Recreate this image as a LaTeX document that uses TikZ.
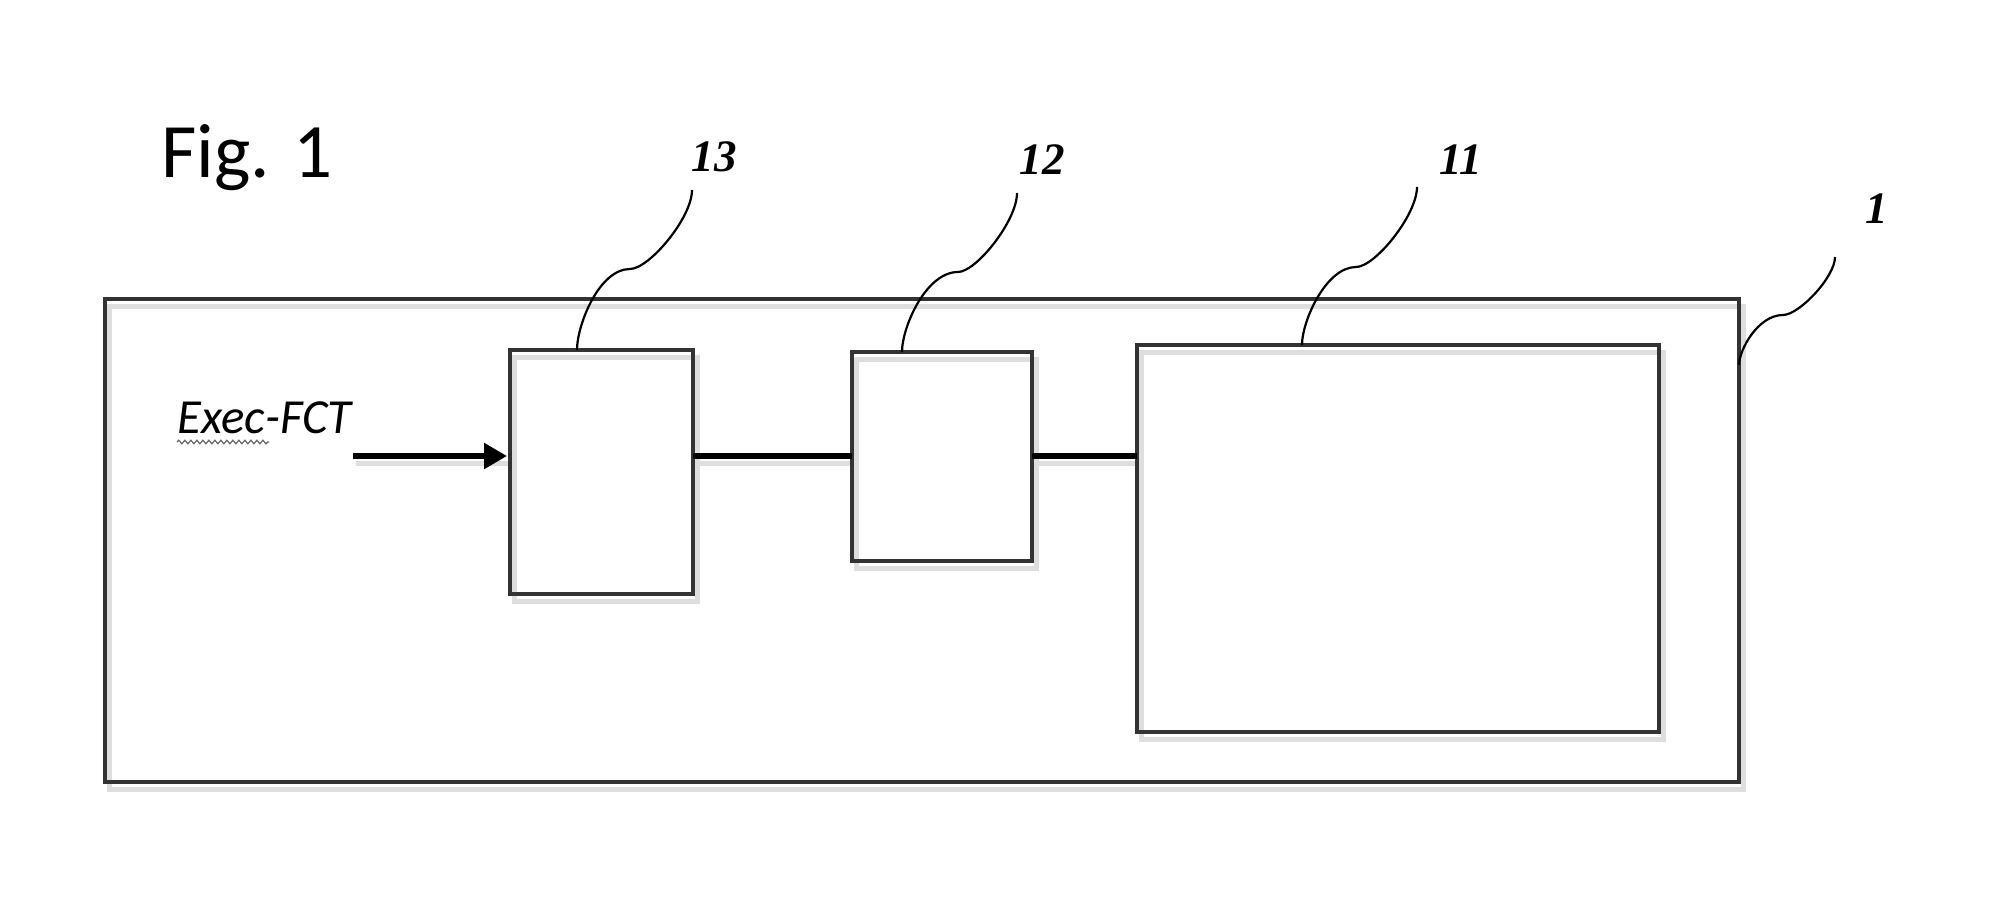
\documentclass[tikz,border=0pt]{standalone}
\usepackage{fontspec}
\setmainfont{Liberation Serif}
\newfontfamily\calibri{Carlito}
\usetikzlibrary{arrows.meta,backgrounds,decorations.pathmorphing}
\tikzset{
  boxshape/.style={draw=black!80, line width=3.5pt, rectangle, inner sep=0pt, outer sep=0pt, fill=none},
  shadowline/.style={draw=black!13, line width=5pt},
  conn/.style={draw=black, line width=5.5pt},
  leaderline/.style={draw=black, line width=2.2pt},
  reflabel/.style={font=\fontsize{45}{50}\selectfont\bfseries\itshape, anchor=base, inner sep=0pt},
}
\begin{document}
\begin{tikzpicture}[x=1pt,y=-1pt]
\useasboundingbox (0,0) rectangle (1994,904);
% boxes
\node[boxshape, minimum width=1634pt, minimum height=483pt] (outer) at (922,540.5) {};
\node[boxshape, minimum width=183pt, minimum height=244pt] (b13) at (601.5,472) {};
\node[boxshape, minimum width=180pt, minimum height=209pt] (b12) at (942,456.5) {};
\node[boxshape, minimum width=522pt, minimum height=387pt] (b11) at (1398,538.5) {};
% title and labels
\node[font=\calibri\fontsize{77}{80}\selectfont, anchor=base west, inner sep=0pt] (fig) at (161,178) {Fig. 1};
\node[font=\calibri\itshape\fontsize{49}{52}\selectfont, anchor=base west, inner sep=0pt] (exec) at (177,433) {Exec-FCT};
\node[reflabel] (l13) at (714,172) {13};
\node[reflabel] (l12) at (1042,175) {12};
\node[reflabel] (l11) at (1461,175) {11};
\node[reflabel] (l1) at (1877,223) {1};
% squiggle under Exec
\draw[black!60, line width=1.2pt, decorate, decoration={snake, amplitude=1.8pt, segment length=6pt}]
  ([yshift=-9pt]exec.base west) -- ++(92,0);
% input arrow and connectors
\coordinate (ain) at (353,456);
\draw[conn, -{Triangle[length=23pt,width=25pt]}, shorten >=3pt] (ain) -- (ain -| b13.west);
\draw[conn] (b13.east |- ain) -- (b12.west |- ain);
\draw[conn] (b12.east |- ain) -- (b11.west |- ain);
% leaders
\coordinate (t13) at (692,190); \coordinate (m13) at (630,269);
\coordinate (e13) at ([xshift=67pt]b13.north west);
\draw[leaderline] (t13) .. controls +(0,28) and +(19,0) .. (m13) .. controls +(-31,0) and +(0,-25) .. (e13);
\coordinate (t12) at (1017,193); \coordinate (m12) at (958,272);
\coordinate (e12) at ([xshift=50pt]b12.north west);
\draw[leaderline] (t12) .. controls +(0,28) and +(18,0) .. (m12) .. controls +(-32,0) and +(0,-25) .. (e12);
\coordinate (t11) at (1417,187); \coordinate (m11) at (1356,267);
\coordinate (e11) at ([xshift=165pt]b11.north west);
\draw[leaderline] (t11) .. controls +(0,28) and +(19,0) .. (m11) .. controls +(-30,0) and +(0,-24) .. (e11);
\coordinate (t1) at (1835,257); \coordinate (m1) at (1783,315);
\coordinate (e1) at ([yshift=-66pt]outer.north east);
\draw[leaderline] (t1) .. controls +(0,20) and +(16,0) .. (m1) .. controls +(-25,0) and +(0,-15) .. (e1);
% shadows
\begin{scope}[on background layer]
  \foreach \b in {outer,b13,b12,b11}{
    \draw[shadowline] ([shift={(4pt,-7pt)}]\b.north west) rectangle ([shift={(4pt,-7pt)}]\b.south east);
  }
  \draw[shadowline] ([shift={(3pt,-7pt)}]ain) -- ([shift={(0pt,-7pt)}]ain -| b13.west);
  \draw[shadowline] ([shift={(3pt,-7pt)}]b13.east |- ain) -- ([shift={(0pt,-7pt)}]b12.west |- ain);
  \draw[shadowline] ([shift={(3pt,-7pt)}]b12.east |- ain) -- ([shift={(0pt,-7pt)}]b11.west |- ain);
\end{scope}
\end{tikzpicture}
\end{document}
